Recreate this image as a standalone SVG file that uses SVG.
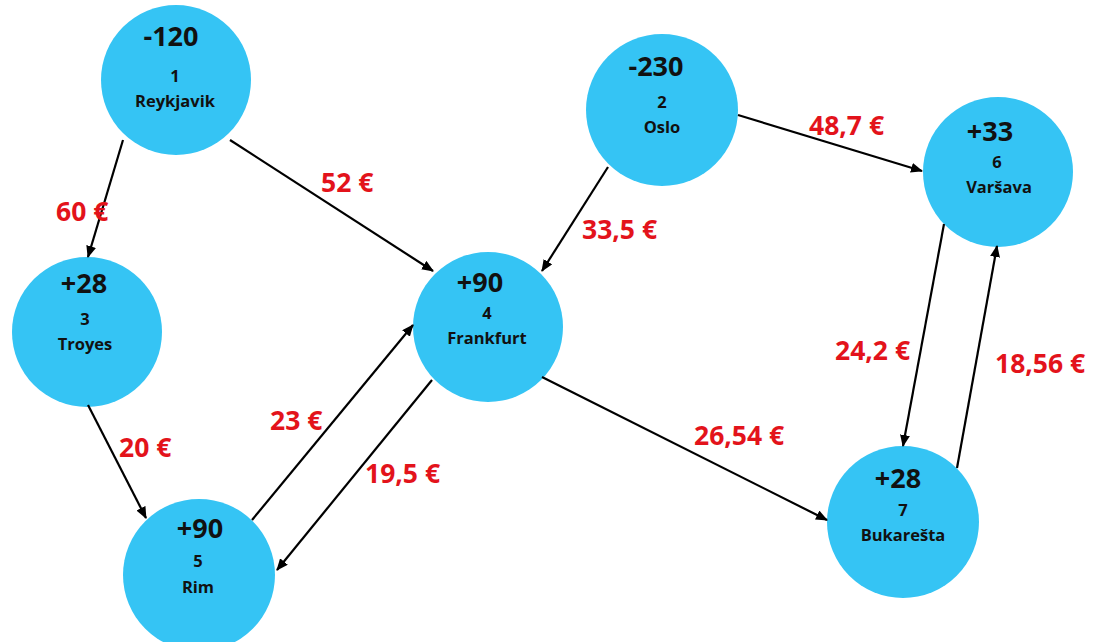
<svg xmlns="http://www.w3.org/2000/svg" width="1097" height="642" viewBox="0 0 1097 642">
  <style>
    .node { fill: #35C4F4; }
    .val { font-family: "Open Sans", "Liberation Sans", sans-serif; font-weight: bold; font-size: 27px; fill: #111; text-anchor: middle; }
    .lbl { font-family: "Open Sans", "Liberation Sans", sans-serif; font-weight: bold; font-size: 16.5px; fill: #111; text-anchor: middle; }
    .cost { font-family: "Open Sans", "Liberation Sans", sans-serif; font-weight: bold; font-size: 26.5px; fill: #E3131B; }
    .edge { stroke: #000; stroke-width: 2.2; fill: none; marker-end: url(#arrow); }
  </style>
  <defs>
    <marker id="arrow" markerUnits="userSpaceOnUse" markerWidth="12" markerHeight="10" refX="11" refY="5" orient="auto">
      <path d="M0,0 L12,5 L0,10 Z" fill="#000"/>
    </marker>
  </defs>
  <rect width="1097" height="642" fill="#fff"/>

  <g id="node1">
    <circle class="node" cx="176" cy="80" r="75"/>
    <text class="val" x="171" y="46">-120</text>
    <text class="lbl" x="175" y="82">1</text>
    <text class="lbl" x="175" y="107">Reykjavik</text>
  </g>
  <g id="node2">
    <circle class="node" cx="662" cy="110" r="76"/>
    <text class="val" x="656" y="76">-230</text>
    <text class="lbl" x="662" y="108">2</text>
    <text class="lbl" x="662" y="133">Oslo</text>
  </g>
  <g id="node3">
    <circle class="node" cx="87" cy="332" r="75"/>
    <text class="val" x="84" y="293">+28</text>
    <text class="lbl" x="85" y="325">3</text>
    <text class="lbl" x="85" y="350">Troyes</text>
  </g>
  <g id="node4">
    <circle class="node" cx="488" cy="327" r="75"/>
    <text class="val" x="480" y="292">+90</text>
    <text class="lbl" x="487" y="319">4</text>
    <text class="lbl" x="487" y="344">Frankfurt</text>
  </g>
  <g id="node5">
    <circle class="node" cx="199" cy="575" r="76"/>
    <text class="val" x="200" y="538">+90</text>
    <text class="lbl" x="198" y="567">5</text>
    <text class="lbl" x="198" y="593">Rim</text>
  </g>
  <g id="node6">
    <circle class="node" cx="998" cy="172" r="75"/>
    <text class="val" x="990" y="141">+33</text>
    <text class="lbl" x="997" y="168">6</text>
    <text class="lbl" x="999" y="193">Varšava</text>
  </g>
  <g id="node7">
    <circle class="node" cx="903" cy="522" r="76"/>
    <text class="val" x="898" y="488">+28</text>
    <text class="lbl" x="903" y="516">7</text>
    <text class="lbl" x="903" y="541">Bukarešta</text>
  </g>

  <g id="connectors">
    <line class="edge" x1="123" y1="140" x2="88" y2="257"/>
    <line class="edge" x1="230" y1="140" x2="433" y2="271"/>
    <line class="edge" x1="608" y1="167" x2="542" y2="271"/>
    <line class="edge" x1="738" y1="115" x2="922" y2="171"/>
    <line class="edge" x1="88" y1="405" x2="146" y2="518"/>
    <line class="edge" x1="252" y1="520" x2="413" y2="325"/>
    <line class="edge" x1="432" y1="380" x2="277" y2="570"/>
    <line class="edge" x1="542" y1="377" x2="827" y2="520"/>
    <line class="edge" x1="944" y1="224" x2="903" y2="446"/>
    <line class="edge" x1="957" y1="468" x2="997" y2="246"/>

    <text class="cost" x="56" y="221">60 €</text>
    <text class="cost" x="321" y="192">52 €</text>
    <text class="cost" x="582" y="239">33,5 €</text>
    <text class="cost" x="809" y="135">48,7 €</text>
    <text class="cost" x="119" y="457">20 €</text>
    <text class="cost" x="270" y="430">23 €</text>
    <text class="cost" x="365" y="483">19,5 €</text>
    <text class="cost" x="694" y="445">26,54 €</text>
    <text class="cost" x="835" y="360">24,2 €</text>
    <text class="cost" x="995" y="373">18,56 €</text>
  </g>
</svg>
